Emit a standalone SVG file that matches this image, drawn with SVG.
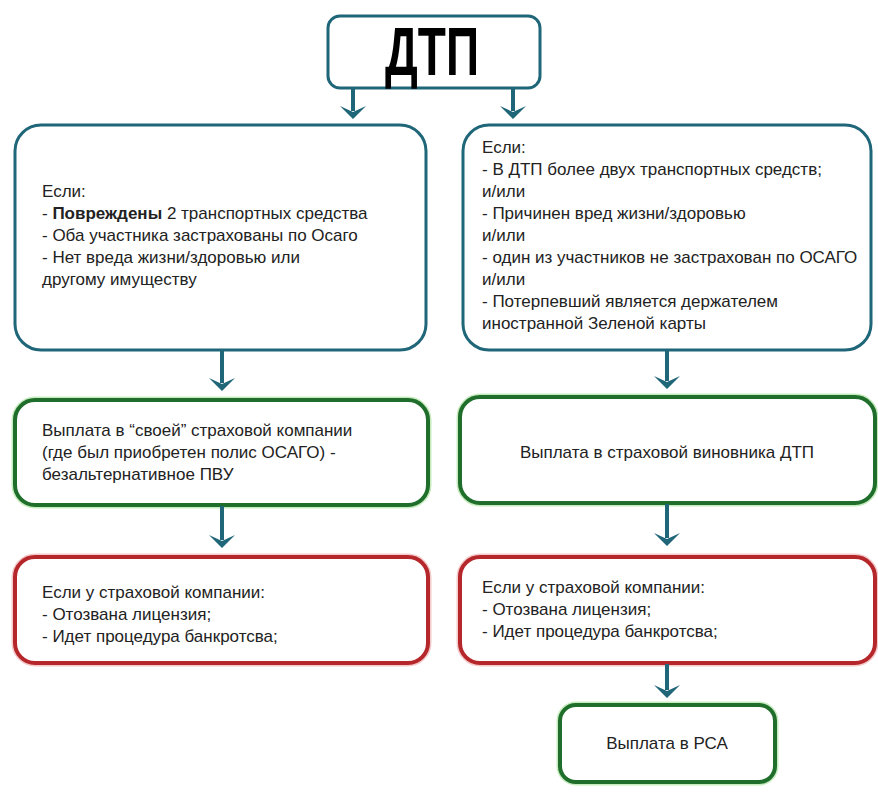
<svg xmlns="http://www.w3.org/2000/svg" width="878" height="792" viewBox="0 0 878 792">
<defs>
<style>
.t{font-family:"Liberation Sans",Arial,sans-serif;font-size:17px;fill:#222;}
.b{font-weight:bold;}
.teal{fill:#fff;stroke:#1f6679;stroke-width:3;}
.green{fill:#fff;stroke:#1f6e2b;stroke-width:4;}
.red{fill:#fff;stroke:#b5272b;stroke-width:4;}
.glowG{fill:none;stroke:#c6ebbd;stroke-width:7;}
.glowR{fill:none;stroke:#f4caca;stroke-width:7;}
.conn line{stroke:#1f6679;stroke-width:4;}
.conn path{fill:#1f6679;}
</style>
</defs>
<rect width="878" height="792" fill="#fff"/>

<g id="node-dtp">
<rect class="teal" x="328" y="16" width="212" height="72" rx="12"/>
<text x="432" y="75" text-anchor="middle" font-family="Liberation Sans,Arial,sans-serif" font-weight="bold" font-size="68" fill="#000" textLength="94" lengthAdjust="spacingAndGlyphs">ДТП</text>
</g>

<g id="node-left-cond">
<rect class="teal" x="15" y="125" width="411" height="225" rx="26"/>
<text class="t" x="42" y="197">Если:</text>
<text class="t" x="42" y="219">- <tspan class="b">Повреждены</tspan> 2 транспортных средства</text>
<text class="t" x="42" y="241">- Оба участника застрахованы по Осаго</text>
<text class="t" x="42" y="263">- Нет вреда жизни/здоровью или</text>
<text class="t" x="42" y="285">другому имуществу</text>
</g>

<g id="node-right-cond">
<rect class="teal" x="463" y="125" width="408" height="225" rx="26"/>
<text class="t" x="482" y="153">Если:</text>
<text class="t" x="482" y="175">- В ДТП более двух транспортных средств;</text>
<text class="t" x="482" y="197">и/или</text>
<text class="t" x="482" y="219">- Причинен вред жизни/здоровью</text>
<text class="t" x="482" y="241">и/или</text>
<text class="t" x="482" y="263">- один из участников не застрахован по ОСАГО</text>
<text class="t" x="482" y="285">и/или</text>
<text class="t" x="482" y="307">- Потерпевший является держателем</text>
<text class="t" x="482" y="329">иностранной Зеленой карты</text>
</g>

<g id="node-left-pay">
<rect class="glowG" x="15" y="400" width="413" height="105" rx="20"/>
<rect class="green" x="15" y="400" width="413" height="105" rx="20"/>
<text class="t" x="42" y="436">Выплата в “своей” страховой компании</text>
<text class="t" x="42" y="458">(где был приобретен полис ОСАГО) -</text>
<text class="t" x="42" y="480">безальтернативное ПВУ</text>
</g>

<g id="node-right-pay">
<rect class="glowG" x="460" y="397" width="415" height="106" rx="20"/>
<rect class="green" x="460" y="397" width="415" height="106" rx="20"/>
<text class="t" x="667" y="458" text-anchor="middle">Выплата в страховой виновника ДТП</text>
</g>

<g id="node-left-red">
<rect class="glowR" x="15" y="557" width="413" height="106" rx="20"/>
<rect class="red" x="15" y="557" width="413" height="106" rx="20"/>
<text class="t" x="42" y="598">Если у страховой компании:</text>
<text class="t" x="42" y="620">- Отозвана лицензия;</text>
<text class="t" x="42" y="642">- Идет процедура банкротсва;</text>
</g>

<g id="node-right-red">
<rect class="glowR" x="460" y="557" width="415" height="106" rx="20"/>
<rect class="red" x="460" y="557" width="415" height="106" rx="20"/>
<text class="t" x="482" y="593">Если у страховой компании:</text>
<text class="t" x="482" y="615">- Отозвана лицензия;</text>
<text class="t" x="482" y="637">- Идет процедура банкротсва;</text>
</g>

<g id="node-rsa">
<rect class="glowG" x="560" y="705" width="215" height="77" rx="16"/>
<rect class="green" x="560" y="705" width="215" height="77" rx="16"/>
<text class="t" x="667" y="749" text-anchor="middle">Выплата в РСА</text>
</g>

<g id="connectors" class="conn">
<line x1="353" y1="89" x2="353" y2="111"/>
<path d="M353 119 L340 106 L353 112 L366 106 Z"/>
<line x1="513" y1="89" x2="513" y2="111"/>
<path d="M513 119 L500 106 L513 112 L526 106 Z"/>
<line x1="222" y1="351" x2="222" y2="383"/>
<path d="M222 391 L209 378 L222 384 L235 378 Z"/>
<line x1="667" y1="351" x2="667" y2="381"/>
<path d="M667 389 L654 376 L667 382 L680 376 Z"/>
<line x1="222" y1="506" x2="222" y2="540"/>
<path d="M222 548 L209 535 L222 541 L235 535 Z"/>
<line x1="667" y1="504" x2="667" y2="538"/>
<path d="M667 546 L654 533 L667 539 L680 533 Z"/>
<line x1="667" y1="664" x2="667" y2="690"/>
<path d="M667 698 L654 685 L667 691 L680 685 Z"/>
</g>
</svg>
